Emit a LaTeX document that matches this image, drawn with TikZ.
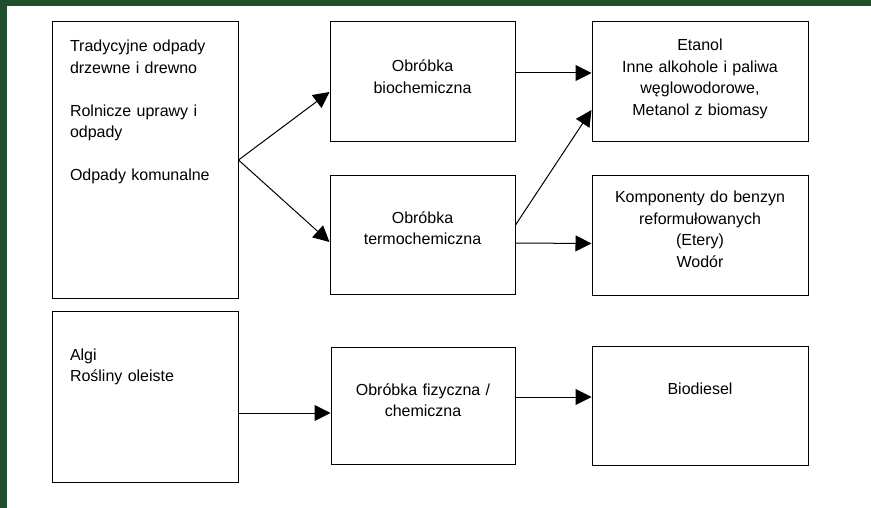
\documentclass[tikz,border=0pt]{standalone}
\usepackage{fontspec}
\setmainfont{Liberation Sans}
\usepackage{tikz}
\usetikzlibrary{arrows.meta}
\definecolor{tlo}{RGB}{33,78,44}
\newcommand{\tekst}{\fontsize{16}{21.5}\selectfont}
\tikzset{
	blok/.style={draw, line width=1pt, anchor=base, inner xsep=5pt, inner ysep=0pt, align=center, font=\tekst},
	strz/.style={-{Triangle[length=16pt,width=16pt]}, line width=1pt},
}

\begin{document}
\begin{tikzpicture}[x=1pt,y=-1pt]
	\fill[tlo] (0,0) rectangle (871,508);
	\fill[white] (7,6) rectangle (871,508);
	\node[blok, text width=150pt, inner xsep=18pt, align=left, text height=30pt, text depth=246pt] (odpady) at (145,52) {Tradycyjne odpady\\ drzewne i drewno\\[21.5pt] Rolnicze uprawy i\\ odpady\\[21.5pt] Odpady komunalne};
	\node[blok, text width=175pt, text height=50pt, text depth=70pt] (bio) at (422.5,72) {Obróbka\\ biochemiczna};
	\node[blok, text width=175pt, text height=47pt, text depth=71pt] (termo) at (422.5,223) {Obróbka\\ termochemiczna};
	\node[blok, text width=206pt, text height=29pt, text depth=91pt] (alkohole) at (700,51) {Etanol\\ Inne alkohole i paliwa\\ węglowodorowe,\\ Metanol z biomasy};
	\node[blok, text width=206pt, text height=27pt, text depth=92pt] (etery) at (700,203) {Komponenty do benzyn\\ reformułowanych\\ (Etery)\\ Wodór};
	\node[blok, text width=150pt, inner xsep=18pt, align=left, text height=49pt, text depth=122pt] (algi) at (145,360) {Algi\\ Rośliny oleiste};
	\node[blok, text width=174pt, text height=48pt, text depth=69pt] (fiz) at (423,395) {Obróbka fizyczna /\\ chemiczna};
	\node[blok, text width=206pt, text height=48pt, text depth=71pt] (biodiesel) at (700,394) {Biodiesel};

	\draw[strz] (odpady.east) -- ([yshift=-10pt]bio.west);
	\draw[strz] (odpady.east) -- ([yshift=-7pt]termo.west);
	\draw[strz] ([yshift=9pt]bio.east) -- ([yshift=9pt]alkohole.west);
	\draw[strz] ([yshift=10pt]termo.east) -- ([yshift=-28pt]alkohole.west);
	\draw[strz] ([yshift=-8pt]termo.east) -- ([yshift=-8pt]etery.west);
	\draw[strz] ([yshift=-16.5pt]algi.east) -- ([yshift=-7.5pt]fiz.west);
	\draw[strz] ([yshift=8.5pt]fiz.east) -- ([yshift=8.5pt]biodiesel.west);
\end{tikzpicture}
\end{document}
